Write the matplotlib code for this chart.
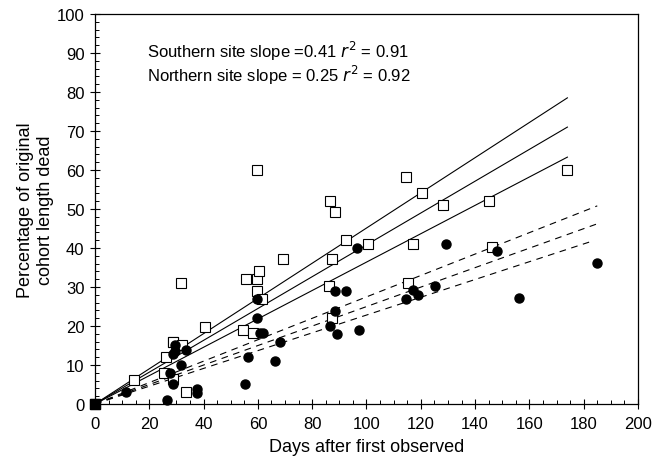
import matplotlib
matplotlib.use("Agg")
import matplotlib.pyplot as plt
from matplotlib.ticker import MultipleLocator

plt.rcParams['font.family'] = ['Liberation Sans', 'DejaVu Sans']

# southern site (open squares)
south_days = [0, 14.5, 26.2, 25.4, 28.6, 28.8, 31.9, 28.6, 31.5, 33.5, 40.5,
              54.4, 55.6, 58.3, 59.5, 59.5, 59.8, 60.5, 61.6, 69.4, 86.6,
              86.3, 87.4, 88.5, 87.4, 92.4, 100.4, 114.5, 115.4, 117.2, 120.6,
              128.3, 145.1, 146.1, 174]
south_dead = [0, 6.2, 12, 7.9, 16, 15.8, 15, 6.5, 31, 3, 19.8,
              19, 32.1, 18.1, 32, 28.9, 60.1, 34, 26.9, 37.2, 52.1,
              30.2, 37.2, 49.2, 22, 42, 41, 58.1, 31, 41, 54.1,
              51, 52.1, 40.2, 60.1]

# northern site (filled circles)
north_days = [0, 11.4, 26.4, 27.6, 28.6, 28.8, 29.5, 29.5, 31.5, 33.5, 37.4,
              37.4, 55.4, 56.4, 59.5, 59.5, 60.8, 61.8, 66.3, 68.1, 86.6,
              88.3, 88.3, 89.2, 92.3, 96.4, 97.3, 114.5, 117.2, 119.1, 125.2,
              129.2, 148, 156.2, 184.8]
north_dead = [0, 3, 0.9, 7.9, 5, 12.8, 15, 13.7, 10, 13.9, 3.8,
              2.8, 5.1, 12, 26.9, 22, 18.1, 18.1, 11.1, 16, 20,
              29, 23.9, 18, 29, 40, 19, 26.9, 29.1, 28, 30.2,
              41, 39.1, 27.1, 36.2]

# regression lines with upper / lower bounds (end points)
south_line_end = [174, 174, 174]
south_line_val = [78.5, 71.0, 63.3]
north_line_end = [185, 185, 182]
north_line_val = [50.8, 46.2, 41.5]

fig = plt.figure(figsize=(6.53, 4.60), dpi=100)
ax = fig.add_axes([0.1455, 0.1196, 0.8315, 0.8478])

for xe, ye in zip(south_line_end, south_line_val):
    ax.plot([0, xe], [0, ye], color='black', lw=0.8, zorder=2)
for xe, ye in zip(north_line_end, north_line_val):
    ax.plot([0, xe], [0, ye], color='black', lw=0.8, ls=(0, (6, 5)), zorder=2)

ax.plot(south_days, south_dead, ls='none', marker='s', ms=6.5,
        mfc='white', mec='black', mew=0.8, zorder=3, clip_on=False)
ax.plot(north_days, north_dead, ls='none', marker='o', ms=6.5,
        mfc='black', mec='black', zorder=4, clip_on=False)
# origin shown as a filled square
ax.plot(south_days[:1], south_dead[:1], ls='none', marker='s', ms=6.5,
        mfc='black', mec='black', zorder=5, clip_on=False)

ax.set_xlim(0, 200)
ax.set_ylim(0, 100)
ax.xaxis.set_major_locator(MultipleLocator(20))
ax.xaxis.set_minor_locator(MultipleLocator(5))
ax.yaxis.set_major_locator(MultipleLocator(10))
ax.yaxis.set_minor_locator(MultipleLocator(2))
ax.tick_params(which='major', direction='inout', length=7, width=0.8,
               labelsize=12, colors='black')
ax.tick_params(axis='x', which='major', pad=5)
ax.tick_params(axis='y', which='major', pad=4)
ax.tick_params(which='minor', direction='in', length=3, width=0.7)
for s in ax.spines.values():
    s.set_linewidth(0.9)

ax.set_xlabel("Days after first observed", fontsize=13, labelpad=5)
ax.set_ylabel("Percentage of original\ncohort length dead", fontsize=13,
              labelpad=2)

ax.text(19.2, 87.7,
        "Southern site slope =0.41 $r^2$ = 0.91\n"
        "Northern site slope = 0.25 $r^2$ = 0.92",
        fontsize=12, va='center', linespacing=1.05)

fig.savefig("out.png", dpi=100)
